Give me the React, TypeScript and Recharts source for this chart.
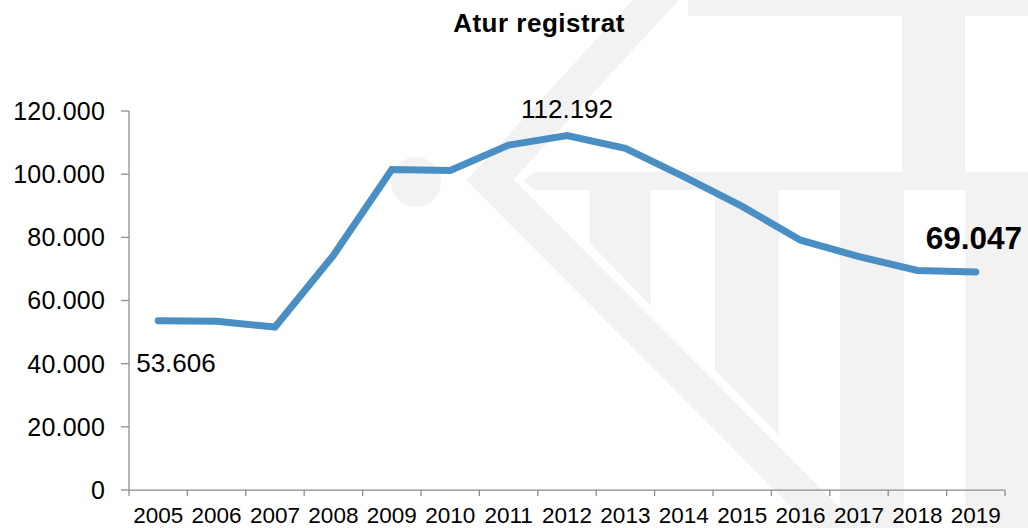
import React from 'react'
import { LineChart, Line, XAxis, YAxis } from 'recharts'

const years = ['2005', '2006', '2007', '2008', '2009', '2010', '2011', '2012', '2013', '2014', '2015', '2016', '2017', '2018', '2019']
const atur = [53606, 53400, 51600, 74300, 101500, 101200, 109200, 112192, 108200, 99200, 89800, 79100, 73900, 69500, 69047]
const yTicks = [0, 20000, 40000, 60000, 80000, 100000, 120000]
const labelled = [0, 7, 14]

const W = 1028
const H = 528
const Y_AXIS_W = 129
const RIGHT = 23
const BAND = (W - Y_AXIS_W - RIGHT) / years.length
const FONT = '"Liberation Sans", Arial, sans-serif'
const AXIS = '#8a8a8a'
const WM = '#f2f2f2'

const fmt = (v: number) => String(v).replace(/\B(?=(\d{3})+(?!\d))/g, '.')

const data = years.map((y, i) => ({ year: y, value: atur[i] }))

function XTick(props: any) {
  const { x, y, payload, index } = props
  return (
    <g>
      <line x1={x - BAND / 2} x2={x - BAND / 2} y1={y} y2={y + 6} stroke={AXIS} strokeWidth={1.25} />
      {index === years.length - 1 && (
        <line x1={x + BAND / 2} x2={x + BAND / 2} y1={y} y2={y + 6} stroke={AXIS} strokeWidth={1.25} />
      )}
      <text x={x} y={y + 33} textAnchor="middle" fontSize={22.5} fill="#000" fontFamily={FONT}>
        {payload.value}
      </text>
    </g>
  )
}

function PointLabel(props: any) {
  const { x, y, index, value } = props
  if (!labelled.includes(index)) return null
  if (index === 0)
    return (
      <text x={x - 22} y={y + 51} fontSize={26} fill="#000" fontFamily={FONT}>
        {fmt(value)}
      </text>
    )
  if (index === years.length - 1)
    return (
      <text x={x - 50} y={y - 22.5} fontSize={31.5} fontWeight="bold" fill="#000" fontFamily={FONT}>
        {fmt(value)}
      </text>
    )
  return (
    <text x={x} y={y - 17.5} textAnchor="middle" fontSize={26} fill="#000" fontFamily={FONT}>
      {fmt(value)}
    </text>
  )
}

// faint logo watermark behind the plot + the title
function Backdrop() {
  return (
    <svg width={W} height={H} style={{ position: 'absolute', left: 0, top: 0 }}>
      <rect x={688} y={0} width={340} height={16} fill={WM} />
      <rect x={902} y={16} width={63} height={156} fill={WM} />
      <polygon points="523,181 535,172 1028,172 1028,190 535,190" fill={WM} />
      <polygon points="589,190 651,190 651,306 589,242" fill={WM} />
      <polygon points="715,190 779,190 779,435 715,370" fill={WM} />
      <rect x={840} y={190} width={64} height={338} fill={WM} />
      <rect x={965} y={190} width={63} height={338} fill={WM} />
      <polyline points="665,-10 490,180 860,552" fill="none" stroke={WM} strokeWidth={34} strokeLinejoin="miter" />
      <circle cx={416} cy={182} r={25} fill={WM} />
      <text x={539} y={31.7} textAnchor="middle" fontSize={26} fontWeight="bold" letterSpacing={0.5} fill="#000" fontFamily={FONT}>
        Atur registrat
      </text>
    </svg>
  )
}

export default function App() {
  return (
    <div style={{ position: 'fixed', left: 0, top: 0, width: W, height: H, background: '#fff' }}>
      <Backdrop />
      <div style={{ position: 'absolute', left: 0, top: 0 }}>
        <LineChart width={W} height={H} data={data} margin={{ top: 111, right: RIGHT, bottom: 0, left: 0 }}>
          <XAxis
            dataKey="year"
            height={38}
            padding={{ left: BAND / 2, right: BAND / 2 }}
            axisLine={{ stroke: AXIS, strokeWidth: 1.25 }}
            tickLine={false}
            tickSize={0}
            tickMargin={0}
            interval={0}
            tick={<XTick />}
          />
          <YAxis
            width={Y_AXIS_W}
            domain={[0, 120000]}
            ticks={yTicks}
            interval={0}
            tickFormatter={fmt}
            axisLine={{ stroke: AXIS, strokeWidth: 1.25 }}
            tickLine={{ stroke: AXIS, strokeWidth: 1.25 }}
            tickSize={8}
            tickMargin={16}
            tick={{ fontSize: 25, fill: '#000', fontFamily: FONT, letterSpacing: 0.2 }}
          />
          <Line
            type="linear"
            dataKey="value"
            stroke="#4a8fc4"
            strokeWidth={7}
            strokeLinecap="round"
            strokeLinejoin="miter"
            dot={false}
            activeDot={false}
            label={<PointLabel />}
            isAnimationActive={false}
          />
        </LineChart>
      </div>
    </div>
  )
}
